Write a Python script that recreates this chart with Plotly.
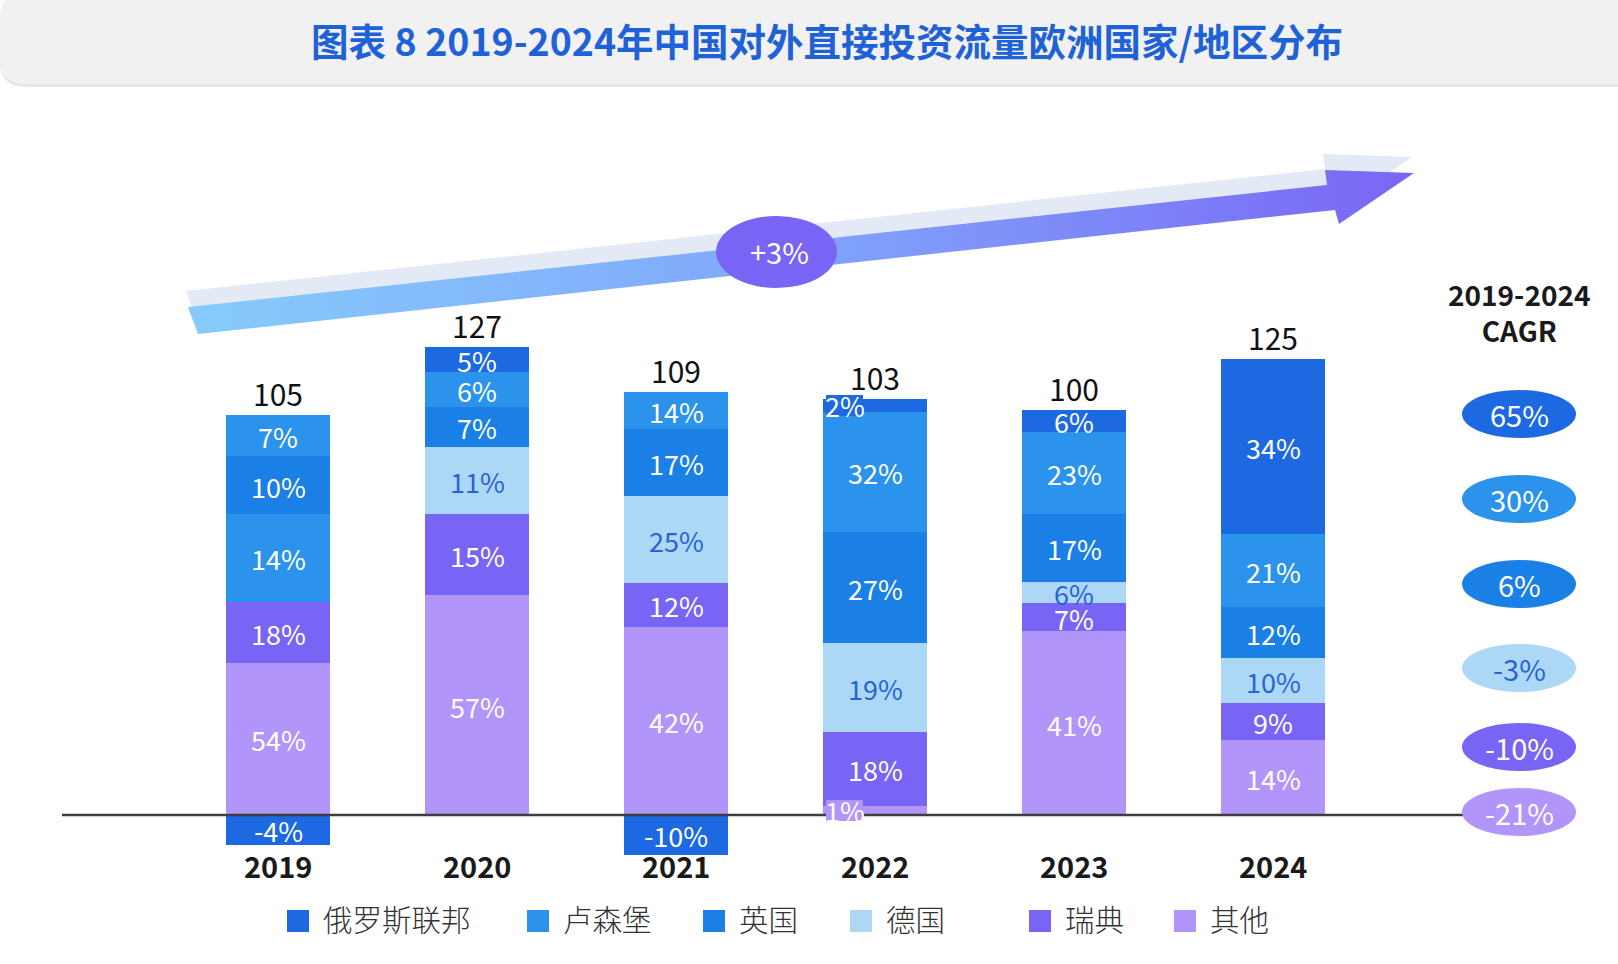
import plotly.graph_objects as go

# ---------------- data ----------------
years = ["2019", "2020", "2021", "2022", "2023", "2024"]
totals = [105, 127, 109, 103, 100, 125]

# bar segment heights as drawn in the picture (bottom -> top)
other_val   = [41.1, 59.4, 50.9, 2.5, 49.7, 20.3]
sweden_val  = [16.6, 22.0, 11.9, 20.0, 7.5, 9.9]
germany_val = [23.7, 18.1, 23.4, 23.9, 5.8, 12.2]
uk_val      = [15.5, 10.8, 18.0, 30.2, 18.4, 13.8]
lux_val     = [11.2, 9.3, 10.1, 32.4, 22.2, 19.8]
russia_val  = [-8.1, 6.9, -10.7, 3.4, 5.9, 47.3]

# share labels
other_pct   = ["54%", "57%", "42%", "1%", "41%", "14%"]
sweden_pct  = ["18%", "15%", "12%", "18%", "7%", "9%"]
germany_pct = ["14%", "11%", "25%", "19%", "6%", "10%"]
uk_pct      = ["10%", "7%", "17%", "27%", "17%", "12%"]
lux_pct     = ["7%", "6%", "14%", "32%", "23%", "21%"]
russia_pct  = ["-4%", "5%", "-10%", "2%", "6%", "34%"]

legend_names = ["俄罗斯联邦", "卢森堡", "英国", "德国", "瑞典", "其他"]
cagr_labels = ["65%", "30%", "6%", "-3%", "-10%", "-21%"]
overall_cagr = "+3%"

# ---------------- style ----------------
C_RU = "#1c69e2"
C_LU = "#2b93eb"
C_UK = "#1a80e6"
C_DE = "#acd8f5"
C_SE = "#7864f5"
C_OT = "#b195fb"
TXT_DE = "#2962d6"
FONT = "Noto Sans CJK SC"
W, H = 1618, 964

series = [
    ("其他", other_val, other_pct, [C_OT] * 6, ["white"] * 6),
    ("瑞典", sweden_val, sweden_pct, [C_SE] * 6, ["white"] * 6),
    ("德国", germany_val, germany_pct, [C_LU] + [C_DE] * 5, ["white"] + [TXT_DE] * 5),
    ("英国", uk_val, uk_pct, [C_UK] * 6, ["white"] * 6),
    ("卢森堡", lux_val, lux_pct, [C_LU] * 6, ["white"] * 6),
    ("俄罗斯联邦", russia_val, russia_pct, [C_RU] * 6, ["white"] * 6),
]
legend_colors = [C_RU, C_LU, C_UK, C_DE, C_SE, C_OT]

xs = list(range(len(years)))
fig = go.Figure()
for name, vals, _, cols, _ in series:
    fig.add_trace(go.Bar(x=xs, y=vals, name=name, width=0.523,
                         marker=dict(color=cols, line=dict(width=0)),
                         showlegend=False, hoverinfo="skip"))

# ---- arrow (pixel coordinate overlay) ----
ax = [188, 1327, 1325, 1414, 1339, 1335, 198, 188]
ay = [307, 185, 170, 173, 224, 210, 334, 307]
fig.add_trace(go.Scatter(x=[v - 2 for v in ax], y=[v - 16 for v in ay], xaxis="x2", yaxis="y2",
                         mode="lines", line=dict(width=0), fill="toself",
                         fillcolor="#e3e9f5", showlegend=False, hoverinfo="skip"))
fig.add_trace(go.Scatter(x=ax, y=ay, xaxis="x2", yaxis="y2",
                         mode="lines", line=dict(width=0), fill="toself",
                         fillgradient=dict(type="horizontal",
                                           colorscale=[[0, "#86cbfb"], [0.5, "#80a6fb"], [1, "#7a66f5"]]),
                         showlegend=False, hoverinfo="skip"))

shapes = []
annotations = []

# banner
shapes.append(dict(type="path", xref="x2", yref="y2", layer="below",
                   path="M 26,-6 L 1660,-6 L 1660,87 L 26,87 Q 0,87 0,61 L 0,20 Q 0,-6 26,-6 Z",
                   fillcolor="#e7e7e7", line=dict(width=0)))
shapes.append(dict(type="path", xref="x2", yref="y2", layer="below",
                   path="M 26,-8 L 1660,-8 L 1660,84 L 26,84 Q 0,84 0,58 L 0,18 Q 0,-8 26,-8 Z",
                   fillcolor="#f1f1f1", line=dict(width=0)))
annotations.append(dict(xref="x2", yref="y2", x=827, y=39, showarrow=False,
                        text="<b>图表 8 2019-2024年中国对外直接投资流量欧洲国家/地区分布</b>",
                        font=dict(family=FONT, size=37.5, color="#1f62d8")))

# +3% ellipse
shapes.append(dict(type="circle", xref="x2", yref="y2", x0=716, x1=837, y0=216, y1=288,
                   fillcolor=C_SE, line=dict(width=0), layer="above"))
annotations.append(dict(xref="x2", yref="y2", x=779, y=251, showarrow=False, text=overall_cagr,
                        font=dict(family=FONT, size=29, color="white")))

# baseline
shapes.append(dict(type="line", xref="x2", yref="y2", x0=62, x1=1463, y0=815, y1=815,
                   line=dict(color="#3d3d3d", width=2.5), layer="above"))

# segment labels
n = len(years)
pos_base = [0.0] * n
for name, vals, pcts, cols, tcols in series:
    for i in range(n):
        v = vals[i]
        if v >= 0:
            mid = pos_base[i] + v / 2
            pos_base[i] += v
        else:
            mid = v / 2
        small = (years[i] == "2022" and name in ("其他", "俄罗斯联邦"))
        if small:
            shapes.append(dict(type="rect", xref="x", yref="y", xsizemode="pixel", ysizemode="pixel",
                               xanchor=i, yanchor=mid, x0=-49, x1=-12, y0=-10.5, y1=10.5,
                               fillcolor=cols[i], line=dict(width=0), layer="above"))
            annotations.append(dict(x=i, y=mid, xshift=-30, yshift=0, showarrow=False, text=pcts[i],
                                    font=dict(family=FONT, size=27, color="white")))
        else:
            annotations.append(dict(x=i, y=mid, showarrow=False, text=pcts[i], yshift=-1,
                                    font=dict(family=FONT, size=27, color=tcols[i])))

# totals above bars
for i in range(n):
    annotations.append(dict(x=i, y=pos_base[i], yanchor="bottom", yshift=-2, showarrow=False,
                            text=str(totals[i]), font=dict(family=FONT, size=30, color="#111111")))

# year labels
for i in range(n):
    annotations.append(dict(x=i, xref="x", yref="y2", y=865, showarrow=False,
                            text="<b>%s</b>" % years[i], font=dict(family=FONT, size=29, color="#1a1a1a")))

# CAGR column
annotations.append(dict(xref="x2", yref="y2", x=1519, y=312, showarrow=False,
                        text="<b>2019-2024<br>CAGR</b>",
                        font=dict(family=FONT, size=28, color="#1a1a1a")))
cagr_y = [414, 499, 584, 668, 747, 812]
for lab, col, cy in zip(cagr_labels, legend_colors, cagr_y):
    shapes.append(dict(type="circle", xref="x2", yref="y2", x0=1462, x1=1576, y0=cy - 24, y1=cy + 24,
                       fillcolor=col, line=dict(width=0), layer="above"))
    annotations.append(dict(xref="x2", yref="y2", x=1519, y=cy, showarrow=False, text=lab,
                            font=dict(family=FONT, size=29, color=TXT_DE if col == C_DE else "white")))

# legend
leg_sq_x = [287, 527, 703, 850, 1029, 1174]
for name, col, sx in zip(legend_names, legend_colors, leg_sq_x):
    shapes.append(dict(type="rect", xref="x2", yref="y2", x0=sx, x1=sx + 22, y0=910, y1=932,
                       fillcolor=col, line=dict(width=0)))
    annotations.append(dict(xref="x2", yref="y2", x=sx + 34, y=918, xanchor="left", showarrow=False,
                            text=name, font=dict(family=FONT, size=29.5, color="#333333", weight=300)))

k = 3.7
ymin = -(964 - 815) / k
ymax = ymin + 964 / k
xmin = -278 / 199
xmax = xmin + 1618 / 199

fig.update_layout(
    width=W, height=H, margin=dict(l=0, r=0, t=0, b=0),
    paper_bgcolor="white", plot_bgcolor="rgba(0,0,0,0)",
    barmode="relative", bargap=0,
    xaxis=dict(range=[xmin, xmax], visible=False, fixedrange=True),
    yaxis=dict(range=[ymin, ymax], visible=False, fixedrange=True),
    xaxis2=dict(range=[0, W], overlaying="x", anchor="y2", visible=False),
    yaxis2=dict(range=[H, 0], overlaying="y", anchor="x2", visible=False),
    shapes=shapes, annotations=annotations, showlegend=False,
    font=dict(family=FONT),
)
fig.write_html("out.html")
